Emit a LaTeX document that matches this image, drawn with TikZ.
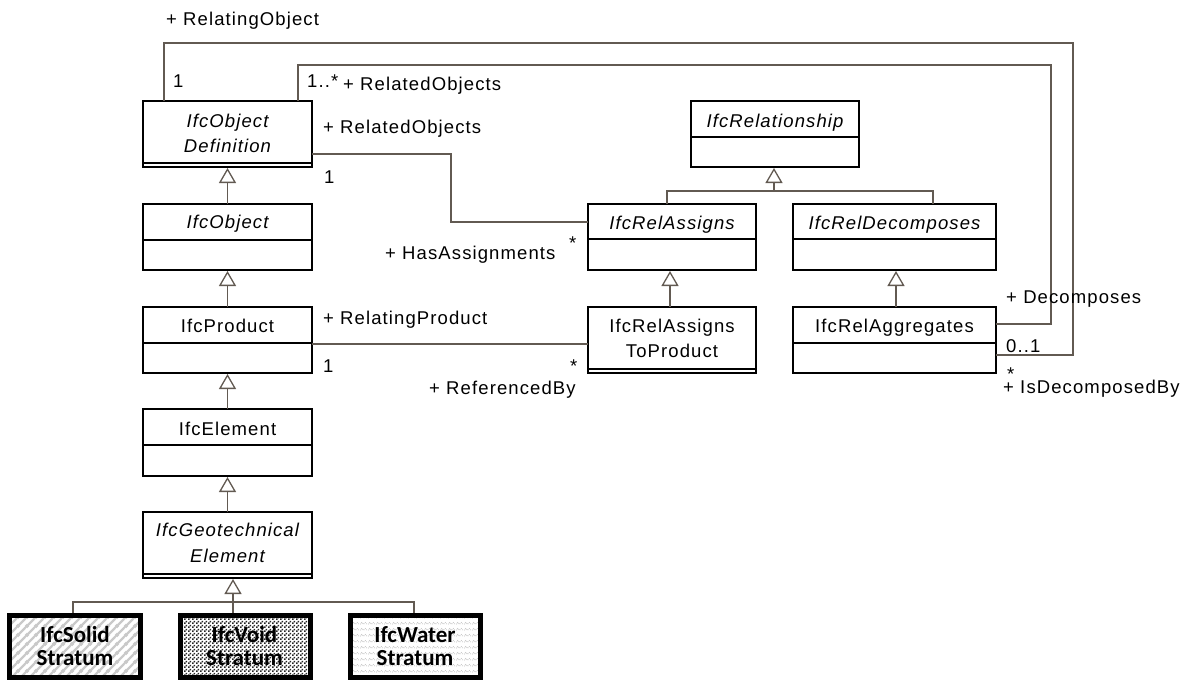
\documentclass[tikz,border=0pt]{standalone}
\usepackage{fontspec}
\setmainfont{Liberation Sans}[LetterSpace=6]
\newfontfamily\stratfont{Carlito}
\usetikzlibrary{arrows.meta,patterns.meta}

\definecolor{connclr}{RGB}{98,90,82}

% fill patterns of the three stratum classes
\tikzdeclarepattern{
  name=stripes,
  bounding box={(0pt,0pt) and (9pt,9pt)},
  tile size={(9pt,9pt)},
  code={
    \draw[line width=2.4pt] (-2pt,-2pt) -- (11pt,11pt);
    \draw[line width=2.4pt] (-2pt,7pt) -- (2pt,11pt);
    \draw[line width=2.4pt] (7pt,-2pt) -- (11pt,2pt);
  }
}
\tikzdeclarepattern{
  name=checker,
  bounding box={(0pt,0pt) and (4pt,4pt)},
  tile size={(4pt,4pt)},
  code={
    \fill (0pt,0pt) rectangle (2pt,2pt);
    \fill (2pt,2pt) rectangle (4pt,4pt);
  }
}
\tikzdeclarepattern{
  name=ripples,
  bounding box={(0pt,0pt) and (8pt,6pt)},
  tile size={(8pt,6pt)},
  code={
    \draw[line width=0.9pt, dash pattern=on 1pt off 1pt]
      (0pt,2pt) -- (2pt,4pt) -- (4pt,2pt) -- (6pt,4pt) -- (8pt,2pt);
  }
}

% class box: name, x1, y1, x2, y2, y of the compartment line
\newcommand\umlclass[6]{%
  \node[clsbox, minimum width={#4-#2}, minimum height={#5-#3}] (#1)
    at ({(#2+#4)/2},{(#3+#5)/2}) {};
  \draw[sepline] (#2,#6) -- (#4,#6);
}

\begin{document}
\begin{tikzpicture}[x=1pt,y=-1pt,
  font=\fontsize{18.5}{22}\selectfont,
  clsbox/.style={draw=black, line width=1.2pt, fill=white, inner sep=0pt, outer sep=0pt},
  sepline/.style={draw=black, line width=1.2pt},
  conn/.style={draw=connclr, line width=1.3pt},
  gen/.style={conn, -{Triangle[open, length=15pt, width=17pt, fill=white]}, shorten >=1pt},
  lbl/.style={inner sep=0pt, anchor=base west},
  ctext/.style={inner sep=0pt, anchor=base},
  stratum/.style={draw=black, line width=5pt, inner sep=0pt, outer sep=2.5pt},
  stxt/.style={inner sep=0pt, anchor=base, font=\stratfont\bfseries\fontsize{23}{23}\selectfont},
]
\useasboundingbox (0,0) rectangle (1197,680);

% classes
\umlclass{objdef}{143}{101}{312}{167}{163}
\umlclass{object}{143}{204}{312}{270}{240}
\umlclass{product}{143}{307}{312}{373}{343}
\umlclass{element}{143}{409}{312}{476}{445}
\umlclass{geo}{143}{512}{312}{578}{574}
\umlclass{relship}{691}{101}{859}{167}{137}
\umlclass{relassign}{588}{204}{756}{270}{239}
\umlclass{reldecomp}{793}{204}{996}{270}{239}
\umlclass{relatp}{588}{307}{756}{373}{369}
\umlclass{relagg}{793}{307}{996}{373}{343}

\node[ctext] (objdef-t1) at (227.5,127) {\itshape IfcObject};
\node[ctext] (objdef-t2) at (227.5,152) {\itshape Definition};
\node[ctext] (object-t) at (227.5,228) {\itshape IfcObject};
\node[ctext] (product-t) at (227.5,332) {IfcProduct};
\node[ctext] (element-t) at (227.5,435) {IfcElement};
\node[ctext] (geo-t1) at (227.5,536) {\itshape IfcGeotechnical};
\node[ctext] (geo-t2) at (227.5,562) {\itshape Element};
\node[ctext] (relship-t) at (775,127) {\itshape IfcRelationship};
\node[ctext] (relassign-t) at (672,229) {\itshape IfcRelAssigns};
\node[ctext] (reldecomp-t) at (894.5,229) {\itshape IfcRelDecomposes};
\node[ctext] (relatp-t1) at (672,332) {IfcRelAssigns};
\node[ctext] (relatp-t2) at (672,357) {ToProduct};
\node[ctext] (relagg-t) at (894.5,332) {IfcRelAggregates};

% stratum classes
\node[stratum, pattern=stripes, pattern color=gray!42, minimum width=131, minimum height=62] (solid) at (75,646.5) {};
\node[stratum, pattern=checker, pattern color=black!85, minimum width=130, minimum height=62] (void) at (245.5,646.5) {};
\node[stratum, pattern=ripples, pattern color=gray!45, minimum width=130, minimum height=62] (water) at (415.5,646.5) {};
\node[stxt] (solid-t1) at (75,642) {IfcSolid};
\node[stxt] (solid-t2) at (75,665) {Stratum};
\node[stxt] (void-t1) at (244.5,642) {IfcVoid};
\node[stxt] (void-t2) at (244.5,665) {Stratum};
\node[stxt] (water-t1) at (415,642) {IfcWater};
\node[stxt] (water-t2) at (415,665) {Stratum};

% generalizations
\draw[gen] (object.north) -- (objdef.south);
\draw[gen] (product.north) -- (object.south);
\draw[gen] (element.north) -- (product.south);
\draw[gen] (geo.north) -- (element.south);
\draw[conn] (73,0 |- solid.north) |- (414,602) -- (414,0 |- water.north);
\draw[gen] (233,0 |- void.north) -- (233,0 |- geo.south);
\draw[conn] (667,0 |- relassign.north) |- (933,191) -- (933,0 |- reldecomp.north);
\draw[gen] (774,191) -- (774,0 |- relship.south);
\draw[gen] (670,0 |- relatp.north) -- (670,0 |- relassign.south);
\draw[gen] (896,0 |- relagg.north) -- (896,0 |- reldecomp.south);

% associations
\draw[conn] (objdef.east |- 0,154) -| (451,222) -- (relassign.west |- 0,222);
\draw[conn] (product.east |- 0,344) -- (relatp.west |- 0,344);
\draw[conn] (relagg.east |- 0,324) -| (1051,65) -| (298,0 |- objdef.north);
\draw[conn] (relagg.east |- 0,355) -| (1073,43) -| (164,0 |- objdef.north);

% role names and multiplicities
\node[lbl] (l-relating) at (166,25) {+ RelatingObject};
\node[lbl] (m-relating) at (173,87) {1};
\node[lbl] (m-related) at (307,87) {1..*};
\node[lbl] (l-related) at (343,90) {+ RelatedObjects};
\node[lbl] (l-related2) at (323,133) {+ RelatedObjects};
\node[lbl] (m-related2) at (324,183) {1};
\node[lbl] (l-hasassign) at (385,259) {+ HasAssignments};
\node[lbl] (m-hasassign) at (569,249) {*};
\node[lbl] (l-relprod) at (323,324) {+ RelatingProduct};
\node[lbl] (m-relprod) at (323,372) {1};
\node[lbl] (m-refby) at (570,372) {*};
\node[lbl] (l-refby) at (429,394) {+ ReferencedBy};
\node[lbl] (l-decomp) at (1006,303) {+ Decomposes};
\node[lbl] (m-decomp) at (1006,352) {0..1};
\node[lbl] (m-isdecomp) at (1007,380) {*};
\node[lbl] (l-isdecomp) at (1003,393) {+ IsDecomposedBy};
\end{tikzpicture}
\end{document}
